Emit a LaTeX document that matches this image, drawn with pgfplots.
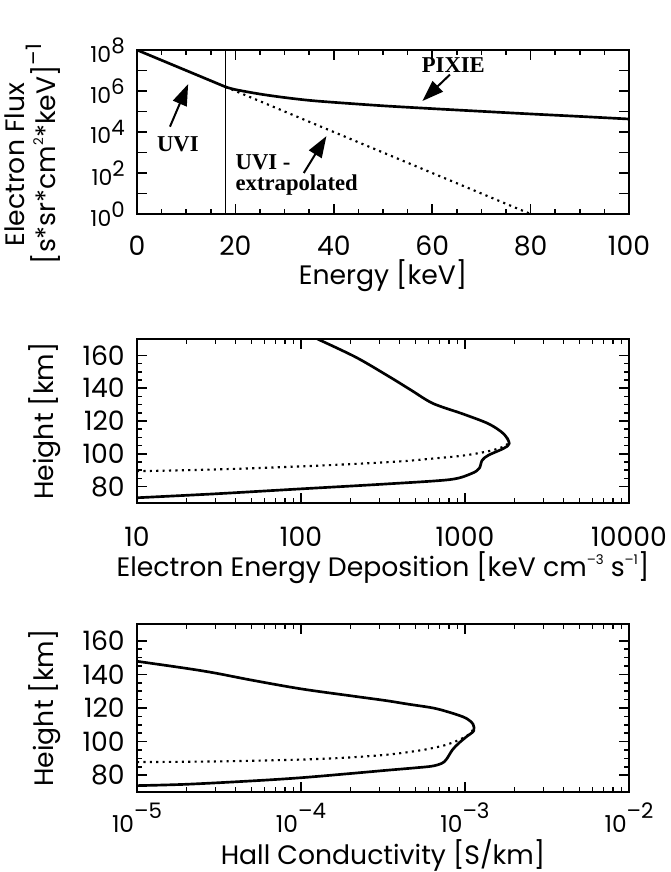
\documentclass[border=0pt]{standalone}
\usepackage{fontspec}
\setmainfont{Poppins}
\newfontfamily\annot{Liberation Serif}
\usepackage{pgfplots}
\pgfplotsset{compat=1.18}
\usetikzlibrary{arrows.meta}
\newcommand{\mysup}[1]{\raisebox{10.5pt}{\fontsize{16}{16}\selectfont #1}}
\newcommand{\topsup}[1]{\raisebox{6.5pt}{\fontsize{16}{16}\selectfont #1}}
\newcommand{\botsup}[1]{\raisebox{10.5pt}{\fontsize{16}{16}\selectfont #1}}
\newcommand{\tinysup}[1]{\raisebox{9pt}{\fontsize{10}{10}\selectfont #1}}
\pgfplotsset{
  idl/.style={
    scale only axis, width=369pt,
    axis line style={line width=1.5pt},
    every tick/.style={black, line width=1.1pt},
    tick align=inside,
    major tick length=7.5pt, minor tick length=3.75pt,
    tick label style={font=\fontsize{20}{22}\selectfont},
    yticklabel style={anchor=east, inner sep=0pt, xshift=-9pt},
    xticklabel style={anchor=base, inner sep=0pt},
    label style={font=\fontsize{20}{20}\selectfont},
    ylabel style={anchor=center, align=center},
    xlabel style={anchor=center},
    clip=true,
  },
  curve/.style={black, line width=2pt, line join=round},
  dotc/.style={black, line width=1.6pt, line cap=butt, dash pattern=on 1.6pt off 3.2pt},
}
\begin{document}
\begin{tikzpicture}
\useasboundingbox (-102.75pt,37.5pt) rectangle (400.5pt,-616.5pt);
% ---------------- top panel
\begin{axis}[idl, at={(0pt,0pt)}, anchor=north west, height=123pt,
  xmin=0, xmax=100, ymode=log, ymin=1, ymax=1e8,
  xtick={0,20,40,60,80,100}, xticklabels={0,20,40,60,80,100}, minor x tick num=3,
  ytick={1,10,100,1000,10000,100000,1000000,10000000,100000000},
  yticklabels={10\topsup{0},,10\topsup{2},,10\topsup{4},,10\topsup{6},,10\topsup{8}},
  yticklabel style={font=\fontsize{16.5}{18}\selectfont},
  yminorticks=false,
  xticklabel style={yshift=-31pt},
  xlabel={Energy [keV]},
  xlabel style={at={(axis description cs:0.5,0)}, yshift=-46pt},
  ylabel={Electron Flux\\{}[s*sr*cm\tinysup{2}*keV]\rlap{\mysup{\textendash1}}},
  ylabel style={at={(axis description cs:-0.213,0.30)}},
]
\addplot[black, line width=0.8pt] coordinates {(18,1) (18,1e8)};
\addplot[curve] coordinates {(0,1e8) (18,1.585e6)};
\addplot[dotc] coordinates {(18,1.585e6) (80,1)};
\addplot[curve, smooth, tension=0.5] coordinates {
 (18,1.585e6) (20,1.17e6) (25,7.1e5) (30,4.8e5) (35,3.5e5) (40,2.8e5)
 (50,1.9e5) (60,1.38e5) (70,1.02e5) (80,7.6e4) (90,5.75e4) (100,4.3e4)};
\draw[black, line width=1.5pt, -{Triangle[length=16pt,width=11pt]}] (axis cs:6.7,1.82e4) -- (axis cs:10.4,2.19e6);
\draw[black, line width=1.5pt, -{Triangle[length=16pt,width=11pt]}] (axis cs:33.9,100) -- (axis cs:38.5,6.3e3);
\draw[black, line width=1.5pt, -{Triangle[length=16pt,width=11pt]}] (axis cs:63.6,6.3e6) -- (axis cs:58,3.24e5);
\node[inner sep=0pt, font=\annot\bfseries\fontsize{17}{18}\selectfont] at (axis cs:8.3,2570) {UVI};
\node[inner sep=0pt, anchor=west, font=\annot\bfseries\fontsize{17}{18}\selectfont] at (axis cs:20,347) {UVI -};
\node[inner sep=0pt, anchor=west, font=\annot\bfseries\fontsize{17}{18}\selectfont] at (axis cs:20,25.7) {extrapolated};
\node[inner sep=0pt, font=\annot\bfseries\fontsize{17}{18}\selectfont] at (axis cs:64.3,1.74e7) {PIXIE};
\end{axis}
% ---------------- middle panel
\begin{axis}[idl, at={(0pt,-216.75pt)}, anchor=north west, height=123pt,
  xmode=log, xmin=10, xmax=10000, ymin=70, ymax=170,
  xtick={10,100,1000,10000}, xticklabels={10,100,1000,10000},
  ytick={80,100,120,140,160}, yticklabels={80,100,120,140,160}, minor y tick num=3,
  xticklabel style={yshift=-32.5pt},
  xlabel={Electron Energy Deposition [keV cm\tinysup{\textendash3} s\tinysup{\textendash1}]},
  xlabel style={at={(axis description cs:0.5,0)}, yshift=-48.75pt},
  ylabel={Height [km]},
  ylabel style={at={(axis description cs:-0.187,0.5)}},
]
\addplot[dotc, smooth, tension=0.5] coordinates {
 (10,89.4) (20,90.0) (45,91.0) (110,92.5) (230,94.0) (420,95.5) (620,97.0)
 (900,98.5) (1150,100.0) (1450,102.0) (1680,104.0) (1820,106.0) (1850,108.0) (1800,110.0)};
\addplot[curve, smooth, tension=0.5] coordinates {
 (10,73.2) (30,75.6) (99,78.6) (330,81.6) (812,84.3) (1097,88) (1221,91.1)
 (1273,96.1) (1393,99.2) (1720,103.3) (1862,106.3) (1720,112.2) (1393,118.3)
 (972,124.3) (638,130.7) (473,138.6) (351,146.6) (217,158.8) (126,170)};
\end{axis}
% ---------------- bottom panel
\begin{axis}[idl, at={(0pt,-430.5pt)}, anchor=north west, height=126pt,
  xmode=log, xmin=1e-5, xmax=1e-2, ymin=70, ymax=170,
  xtick={1e-5,1e-4,1e-3,1e-2},
  xticklabels={10\botsup{\textendash5},10\botsup{\textendash4},10\botsup{\textendash3},10\botsup{\textendash2}},
  ytick={80,100,120,140,160}, yticklabels={80,100,120,140,160}, minor y tick num=3,
  xticklabel style={yshift=-30pt, font=\fontsize{17.5}{19}\selectfont},
  xlabel={Hall Conductivity [S/km]},
  xlabel style={at={(axis description cs:0.5,0)}, yshift=-47.25pt},
  ylabel={Height [km]},
  ylabel style={at={(axis description cs:-0.187,0.5)}},
]
\addplot[dotc, smooth, tension=0.5] coordinates {
 (1e-5,87.8) (3e-5,88.2) (1e-4,89.3) (2e-4,90.6) (3.5e-4,92.4) (5.5e-4,95)
 (7.5e-4,97.8) (9e-4,100.6) (1.03e-3,103.5) (1.1e-3,106) (1.13e-3,108)};
\addplot[curve, smooth, tension=0.55] coordinates {
 (1e-5,73.8) (2e-5,74.6) (5e-5,76.6) (1e-4,78.5) (2e-4,81.0) (3.3e-4,82.9)
 (5e-4,84.4) (6.3e-4,85.4) (7.2e-4,87.0) (7.7e-4,89.4) (8.4e-4,95.2)
 (9.2e-4,99.2) (1.03e-3,103.2) (1.13e-3,106.4) (1.12e-3,110.4) (1.05e-3,113)
 (9.7e-4,114.8) (8e-4,117.5) (6.4e-4,120) (4.5e-4,122.3) (3.3e-4,124.4)
 (2e-4,127.3) (1e-4,131.4) (5e-5,136.6) (3e-5,140.8) (2e-5,143.6) (1e-5,147.8)};
\end{axis}
\end{tikzpicture}
\end{document}
